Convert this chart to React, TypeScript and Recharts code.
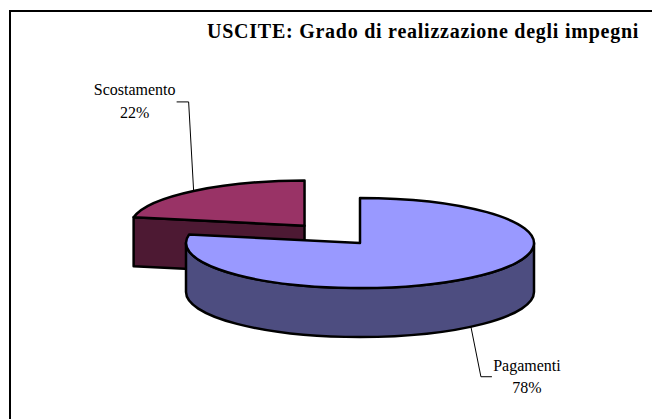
import { Pie, PieChart } from "recharts";

const categories = ["Scostamento", "Pagamenti"];
const shares = [22, 78];
const topColors = ["#993366", "#9999ff"];
const sideColors = ["#4d1933", "#4d4d80"];
const explodeFractions = [0.5, 0];

const chartData = categories.map((name, i) => ({
  name,
  value: shares[i],
  fill: topColors[i],
  side: sideColors[i],
  explode: explodeFractions[i],
}));

const TILT = 0.259;
const DEPTH = 49;
const RAD = Math.PI / 180;
const SERIF = '"Liberation Serif", "Times New Roman", serif';

// the first slice is drawn first so the big one overlaps it, 12 o'clock stays the boundary
const START_ANGLE = 90 + (shares[0] / 100) * 360;

function explodedCentre(p: any) {
  const explode = p.payload?.explode ?? p.explode ?? 0;
  return {
    x: p.cx + p.outerRadius * explode * Math.cos(p.midAngle * RAD),
    y: p.cy - p.outerRadius * TILT * explode * Math.sin(p.midAngle * RAD),
  };
}

function PieSlice3D(props: any) {
  const { startAngle, endAngle, outerRadius, fill } = props;
  const side = props.payload?.side ?? props.side;
  const c = explodedCentre(props);
  const rx = outerRadius;
  const ry = outerRadius * TILT;
  const pt = (a: number) => ({
    x: c.x + rx * Math.cos(a * RAD),
    y: c.y - ry * Math.sin(a * RAD),
  });
  const s = pt(startAngle);
  const e = pt(endAngle);
  const large = Math.abs(startAngle - endAngle) > 180 ? 1 : 0;
  const top = `M${c.x},${c.y} L${s.x},${s.y} A${rx},${ry} 0 ${large} 1 ${e.x},${e.y} Z`;

  const face = (p: { x: number; y: number }) =>
    `M${c.x},${c.y} L${p.x},${p.y} L${p.x},${p.y + DEPTH} L${c.x},${c.y + DEPTH} Z`;

  // the round wall only shows on the front half of the ellipse
  const wallStart = Math.min(startAngle, 0);
  const wallEnd = Math.max(endAngle, -180);
  const hasWall = wallStart > wallEnd;
  const ws = pt(wallStart);
  const we = pt(wallEnd);
  const wall = `M${ws.x},${ws.y} A${rx},${ry} 0 0 1 ${we.x},${we.y} L${we.x},${we.y + DEPTH} A${rx},${ry} 0 0 0 ${ws.x},${ws.y + DEPTH} Z`;

  const paint = { stroke: "#000", strokeWidth: 2.5, strokeLinejoin: "round" as const };
  return (
    <g>
      {Math.cos(startAngle * RAD) < -0.001 && <path d={face(s)} fill={side} {...paint} />}
      {Math.cos(endAngle * RAD) > 0.001 && <path d={face(e)} fill={side} {...paint} />}
      {hasWall && <path d={wall} fill={side} {...paint} />}
      <path d={top} fill={fill} {...paint} />
    </g>
  );
}

const calloutOffsets: Record<string, any> = {
  Scostamento: { elbowX: -5, elbowY: -89, endX: -17, textX: -59, nameY: -96, pctY: -73, onWall: false },
  Pagamenti: { elbowX: 10, elbowY: 50, endX: 21, textX: 56, nameY: 44, pctY: 66, onWall: true },
};

function Callout(props: any) {
  const o = calloutOffsets[props.name];
  const c = explodedCentre(props);
  const x = c.x + props.outerRadius * Math.cos(props.midAngle * RAD);
  const y =
    c.y - props.outerRadius * TILT * Math.sin(props.midAngle * RAD) + (o.onWall ? DEPTH : 0);
  const pct = `${Math.round(props.percent * 100)}%`;
  return (
    <g>
      <polyline
        points={`${x},${y} ${x + o.elbowX},${y + o.elbowY} ${x + o.endX},${y + o.elbowY}`}
        fill="none"
        stroke="#000"
        strokeWidth={1}
      />
      <text x={x + o.textX} y={y + o.nameY} textAnchor="middle" fontFamily={SERIF} fontSize={16} fill="#000">
        {props.name}
      </text>
      <text x={x + o.textX} y={y + o.pctY} textAnchor="middle" fontFamily={SERIF} fontSize={16} fill="#000">
        {pct}
      </text>
    </g>
  );
}

export default function App() {
  return (
    <div style={{ position: "absolute", left: 0, top: 0, width: 652, height: 419, background: "#fff", overflow: "hidden" }}>
      <div style={{ position: "absolute", left: 9, top: 10, width: 643, height: 409, borderLeft: "2px solid #000", borderTop: "2px solid #000" }} />
      <div
        style={{
          position: "absolute",
          left: 207,
          top: 20,
          fontFamily: SERIF,
          fontWeight: "bold",
          fontSize: 20,
          letterSpacing: 0.75,
          whiteSpace: "nowrap",
          color: "#000",
        }}
      >
        USCITE: Grado di realizzazione degli impegni
      </div>
      <PieChart width={652} height={419} margin={{ top: 0, right: 0, bottom: 0, left: 0 }} style={{ position: "absolute", left: 0, top: 0 }}>
        <Pie
          data={chartData}
          dataKey="value"
          nameKey="name"
          cx={360}
          cy={243}
          outerRadius={174}
          startAngle={START_ANGLE}
          endAngle={START_ANGLE - 360}
          stroke="none"
          label={Callout}
          labelLine={false}
          shape={PieSlice3D}
          isAnimationActive={false}
        />
      </PieChart>
    </div>
  );
}
